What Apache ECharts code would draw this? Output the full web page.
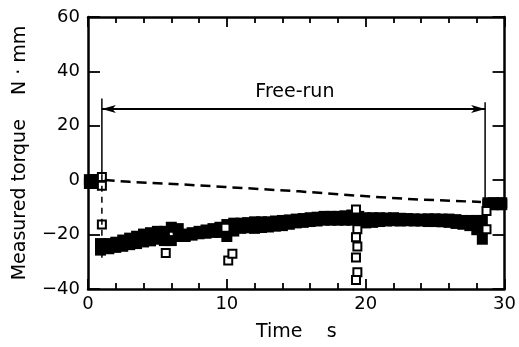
<!DOCTYPE html>
<html>
<head>
<meta charset="utf-8">
<script src="https://cdn.jsdelivr.net/npm/echarts@6/dist/echarts.min.js"></script>
<style>
  html, body { margin: 0; padding: 0; background: #fff; }
  #chart { width: 519px; height: 347px; }
</style>
</head>
<body>
<div id="chart"></div>
<script>
// measured torque, dense band of samples (upper and lower rows of squares)
const bandTime = [0.1, 0.4, 0.7, 0.9, 1.5, 2.0, 2.5, 3.0, 3.5, 4.0, 4.5, 5.0, 5.5, 6.0, 6.5, 7.0, 7.5, 8.0, 8.5, 9.0, 9.5,
  10.0, 10.5, 11.0, 11.5, 12.0, 12.5, 13.0, 13.5, 14.0, 14.5, 15.0, 15.5, 16.0, 16.5, 17.0, 17.5, 18.0, 18.5, 19.0, 19.5,
  20.0, 20.5, 21.0, 21.5, 22.0, 22.5, 23.0, 23.5, 24.0, 24.5, 25.0, 25.5, 26.0, 26.5, 27.0, 27.5, 28.0, 28.4,
  28.8, 29.2, 29.6, 29.8]
const bandUpper = [0.2, 0.2, 0.2, -23.3, -23.3, -22.8, -22.0, -21.3, -20.6, -19.8, -19.3, -18.8, -18.8, -17.3, -17.8, -19.8, -19.3, -18.8, -18.3, -17.8, -17.3,
  -16.3, -15.8, -15.8, -15.6, -15.3, -15.3, -15.3, -15.0, -14.8, -14.6, -14.3, -14.1, -13.8, -13.6, -13.3, -13.3, -13.3, -13.1, -12.8, -13.3,
  -13.8, -13.8, -13.8, -13.9, -13.8, -14.0, -14.1, -14.2, -14.3, -14.2, -14.2, -14.3, -14.3, -14.5, -14.8, -14.8, -14.8, -14.8,
  -8.3, -8.3, -8.3, -8.3]
const bandLower = [-1.2, -1.2, -1.2, -25.7, -25.2, -24.7, -24.3, -23.7, -23.3, -22.7, -22.3, -21.7, -22.2, -22.2, -20.7, -20.7, -20.2, -19.7, -19.5, -19.2, -19.2,
  -20.7, -18.7, -17.7, -17.5, -17.7, -17.4, -17.2, -16.9, -16.7, -16.2, -15.7, -15.5, -15.2, -15.0, -14.7, -14.7, -14.7, -14.7, -14.7, -15.2,
  -15.7, -15.5, -15.2, -15.0, -14.9, -15.0, -14.9, -15.0, -15.0, -15.2, -15.2, -15.3, -15.5, -15.9, -16.2, -16.7, -18.2, -21.7,
  -9.0, -9.0, -9.0, -9.0]

// isolated samples drawn as open squares
const outlierTime = [1.0, 1.0, 1.0, 5.6, 9.9, 10.1, 10.4, 19.3, 19.4, 19.3, 19.4, 19.3, 19.4, 19.3, 28.7, 28.7]
const outlierTorque = [1.2, -2.0, -16.3, -26.8, -17.5, -29.5, -27.0, -10.8, -18.0, -21.0, -24.4, -28.4, -33.8, -36.7, -11.3, -18.0]

// dashed reference curve
const dashTime = [1.2, 3.0, 6.6, 9.9, 15.2, 20.5, 23.8, 28.3]
const dashTorque = [0.1, -0.6, -1.5, -2.5, -4.1, -6.1, -7.1, -8.0]

// free-run bracket
const freeRunStart = 1.0
const freeRunEnd = 28.6
const arrowLevel = 26.2
const leftBarSolid = [30, 2]
const leftBarDashed = [2, -30]
const rightBar = [28.7, -7]
const freeRunLabel = { text: 'Free-run', t: 14.9, v: 32.4 }

const xTicks = { min: 0, max: 30, interval: 10 }
const yTicks = { min: -40, max: 60, interval: 20 }

const font = 'DejaVu Sans'
const black = '#000'

const chart = echarts.init(document.getElementById('chart'))

const axisLine = { show: true, onZero: false, lineStyle: { color: black, width: 2.5 } }
const xTick = { show: true, inside: true, length: 10, lineStyle: { color: black, width: 1.8 } }
const xMinor = { show: true, splitNumber: 5, length: 6, lineStyle: { color: black, width: 1.8 } }
const yTick = { show: true, inside: true, length: 12, lineStyle: { color: black, width: 1.8 } }

const pairs = (xs, ys) => xs.map((x, i) => [x, ys[i]])

const option = {
  animation: false,
  backgroundColor: '#fff',
  grid: { left: 88, top: 17, right: 12, bottom: 55 },
  xAxis: [
    {
      type: 'value', position: 'bottom', ...xTicks,
      name: 'Time    s', nameLocation: 'middle', nameGap: 34,
      nameTextStyle: { fontFamily: font, fontSize: 19, color: black },
      axisLine, axisTick: xTick, minorTick: xMinor,
      splitLine: { show: false },
      axisLabel: { margin: 6, fontFamily: font, fontSize: 18, color: black }
    },
    {
      type: 'value', position: 'top', ...xTicks,
      axisLine, axisTick: xTick, minorTick: xMinor,
      splitLine: { show: false }, axisLabel: { show: false }
    }
  ],
  yAxis: [
    {
      type: 'value', position: 'left', ...yTicks,
      name: 'Measured torque    N · mm', nameLocation: 'middle', nameGap: 58,
      nameTextStyle: { fontFamily: font, fontSize: 19, color: black },
      axisLine, axisTick: yTick,
      splitLine: { show: false },
      axisLabel: {
        margin: 8, fontFamily: font, fontSize: 18, color: black,
        formatter: v => String(v).replace('-', '\u2212')
      }
    },
    {
      type: 'value', position: 'right', ...yTicks,
      axisLine, axisTick: yTick,
      splitLine: { show: false }, axisLabel: { show: false }
    }
  ],
  series: [
    {
      type: 'scatter', symbol: 'rect', symbolSize: 11,
      itemStyle: { color: black, opacity: 1 },
      data: pairs(bandTime, bandUpper)
    },
    {
      type: 'scatter', symbol: 'rect', symbolSize: 11,
      itemStyle: { color: black, opacity: 1 },
      data: pairs(bandTime, bandLower)
    },
    {
      type: 'scatter', symbol: 'rect', symbolSize: 8,
      itemStyle: { color: '#fff', borderColor: black, borderWidth: 2, opacity: 1 },
      data: pairs(outlierTime, outlierTorque)
    },
    {
      type: 'line', showSymbol: false,
      lineStyle: { color: black, width: 2.5, type: [10, 6] },
      data: pairs(dashTime, dashTorque)
    },
    {
      type: 'line', showSymbol: false,
      lineStyle: { color: black, width: 1.5 },
      data: leftBarSolid.map(v => [freeRunStart, v])
    },
    {
      type: 'line', showSymbol: false,
      lineStyle: { color: black, width: 1.5, type: [6, 5] },
      data: leftBarDashed.map(v => [freeRunStart, v])
    },
    {
      type: 'line', showSymbol: false,
      lineStyle: { color: black, width: 1.5 },
      data: rightBar.map(v => [freeRunEnd, v]),
      markLine: {
        silent: true,
        symbol: ['arrow', 'arrow'],
        symbolSize: [6, 14],
        lineStyle: { color: black, width: 2, type: 'solid' },
        label: { show: false },
        data: [[{ coord: [freeRunStart, arrowLevel] }, { coord: [freeRunEnd, arrowLevel] }]]
      },
      markPoint: {
        silent: true,
        symbol: 'rect', symbolSize: 1,
        itemStyle: { color: 'rgba(0,0,0,0)' },
        label: {
          show: true, position: 'inside', formatter: freeRunLabel.text,
          fontFamily: font, fontSize: 19, color: black
        },
        data: [{ coord: [freeRunLabel.t, freeRunLabel.v] }]
      }
    }
  ]
}

chart.setOption(option)
</script>
</body>
</html>
